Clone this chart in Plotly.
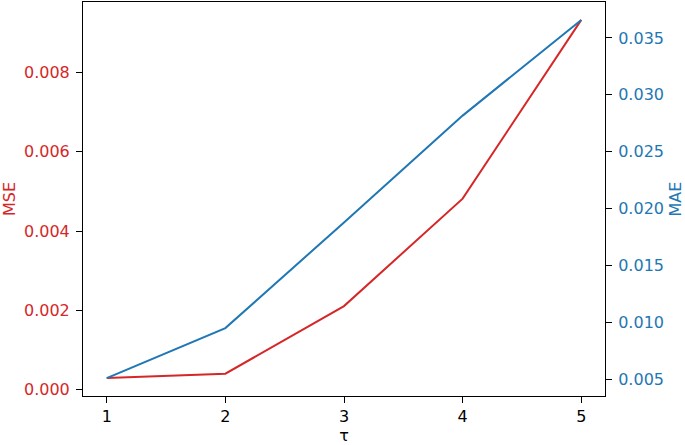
import plotly.graph_objects as go

tau = [1, 2, 3, 4, 5]
mse = [0.000293, 0.000404, 0.00211, 0.00482, 0.00933]
mae = [0.00514, 0.00953, 0.0188, 0.02818, 0.03658]

RED = "#d62728"
BLUE = "#1f77b4"
FONT = "DejaVu Sans"
FS = 16


def padded(vals, frac=0.05):
    lo, hi = min(vals), max(vals)
    d = (hi - lo) * frac
    return [lo - d, hi + d]


fig = go.Figure()
fig.add_trace(go.Scatter(x=tau, y=mse, mode="lines", line=dict(color=RED, width=2),
                         name="MSE", yaxis="y"))
fig.add_trace(go.Scatter(x=tau, y=mae, mode="lines", line=dict(color=BLUE, width=2),
                         name="MAE", yaxis="y2"))

axis_common = dict(showgrid=False, zeroline=False, showline=True, linecolor="black",
                   linewidth=1, ticks="outside", ticklen=6, tickwidth=1, tickcolor="black",
                   automargin=False)

fig.update_layout(
    width=685, height=445,
    margin=dict(l=83, r=80, t=2, b=49),
    paper_bgcolor="white", plot_bgcolor="white",
    showlegend=False,
    font=dict(family=FONT, size=FS, color="black"),
    xaxis=dict(range=padded(tau), tickvals=tau, mirror=True, ticklabelstandoff=0,
               title=dict(text="τ", standoff=7, font=dict(size=FS)),
               tickfont=dict(size=FS, color="black"), **axis_common),
    yaxis=dict(range=padded(mse), dtick=0.002, tick0=0, tickformat=".3f",
               ticklabelstandoff=3,
               tickfont=dict(size=FS, color=RED),
               title=dict(text="MSE", standoff=4, font=dict(size=FS, color=RED)),
               **axis_common),
    yaxis2=dict(range=padded(mae), dtick=0.005, tick0=0, tickformat=".3f",
                ticklabelstandoff=3,
                overlaying="y", side="right",
                tickfont=dict(size=FS, color=BLUE),
                title=dict(text="MAE", standoff=7, font=dict(size=FS, color=BLUE)),
                **axis_common),
)

fig.write_html("out.html", config={"displayModeBar": False},
               post_script="document.body.style.margin='0';document.body.style.overflow='hidden';")
